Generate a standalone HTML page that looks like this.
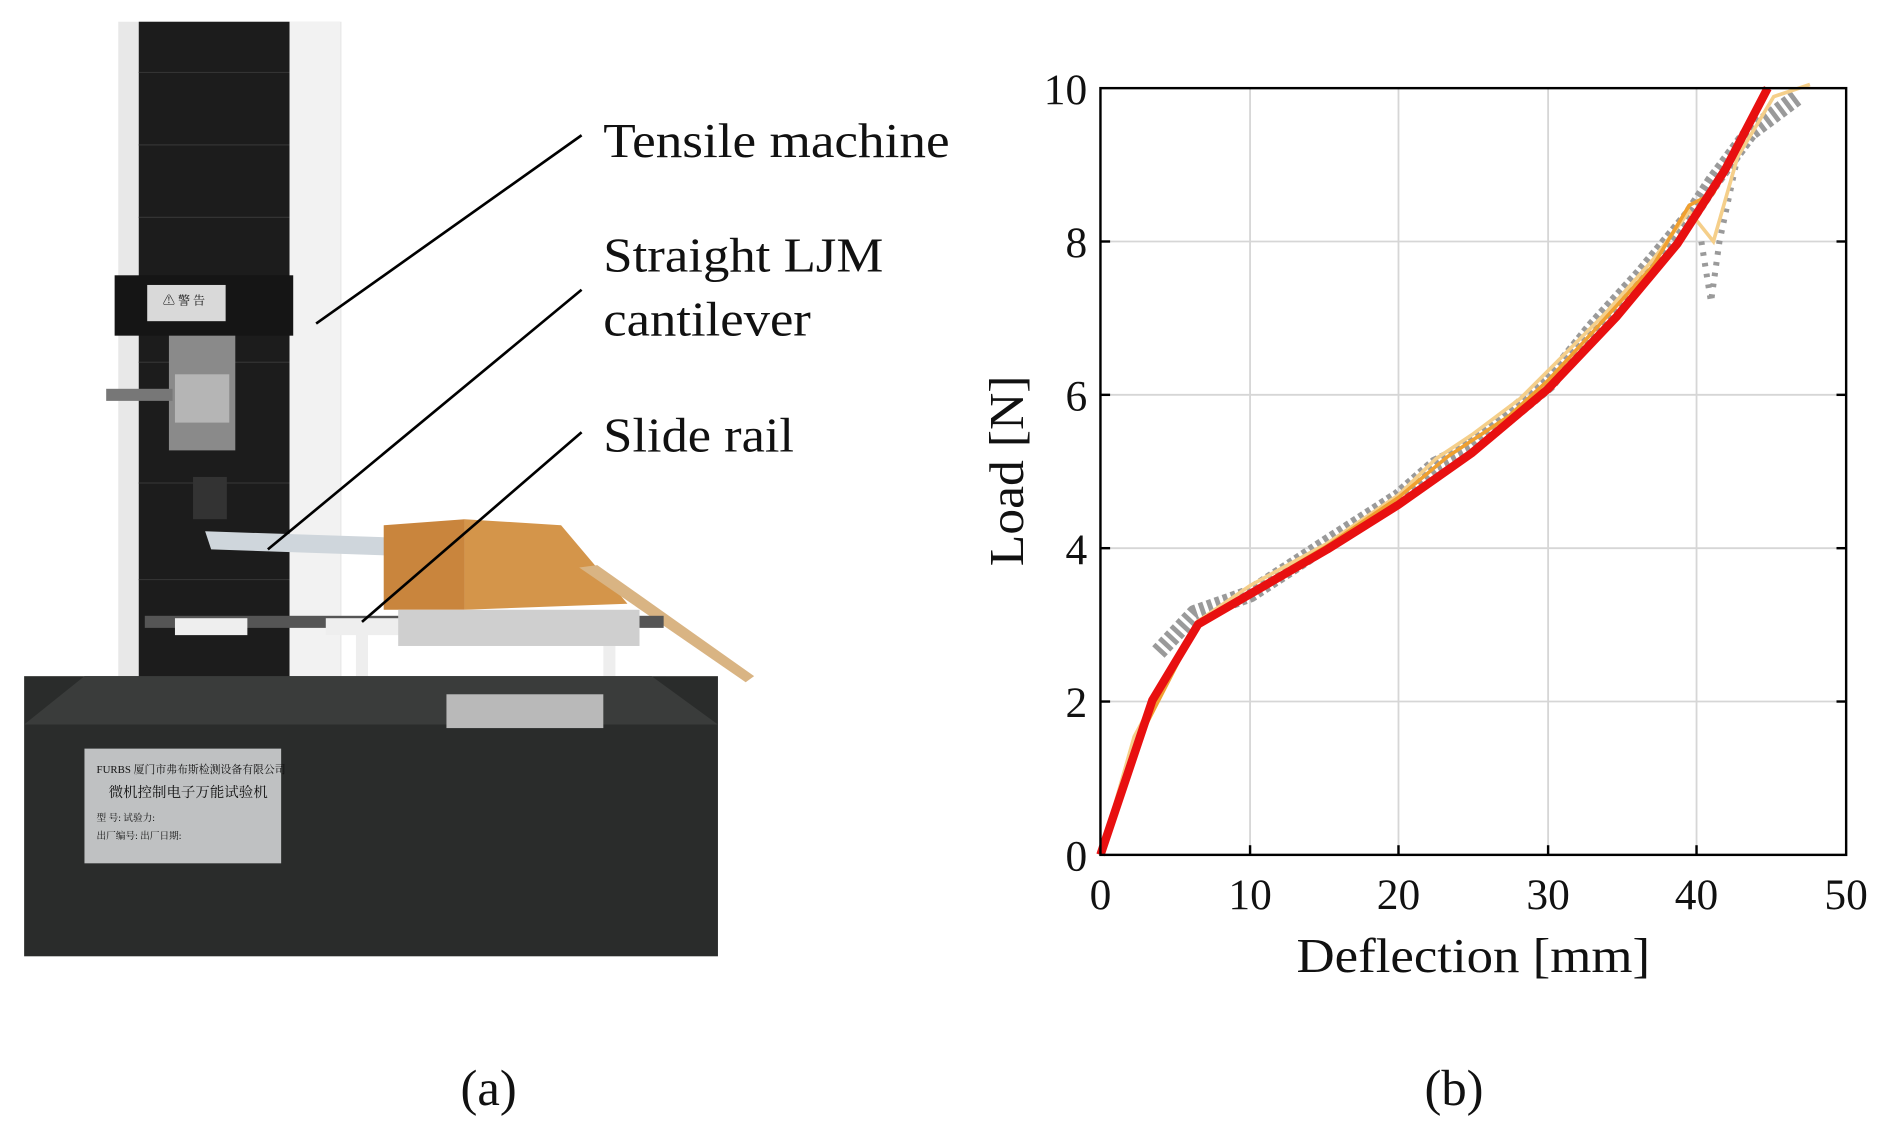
<!DOCTYPE html>
<html><head><meta charset="utf-8"><style>
html,body{margin:0;padding:0;background:#fff;}
svg{display:block;}
text{font-family:"Liberation Serif","Noto Serif CJK SC",serif;fill:#111;}
</style></head><body>
<svg width="1892" height="1135" viewBox="0 0 1568 940" preserveAspectRatio="none" xmlns="http://www.w3.org/2000/svg">
<rect width="1568" height="940" fill="#fff"/>
<rect x="98" y="18" width="185" height="545" fill="#e8e8e8"/>
<rect x="115" y="18" width="125" height="545" fill="#1c1c1c"/>
<g stroke="#333" stroke-width="1">
<line x1="115" y1="60" x2="240" y2="60"/><line x1="115" y1="120" x2="240" y2="120"/><line x1="115" y1="180" x2="240" y2="180"/><line x1="115" y1="300" x2="240" y2="300"/><line x1="115" y1="400" x2="240" y2="400"/><line x1="115" y1="480" x2="240" y2="480"/>
</g>
<rect x="240" y="18" width="42" height="545" fill="#f2f2f2"/>
<rect x="95" y="228" width="148" height="50" fill="#151515"/>
<rect x="122" y="236" width="65" height="30" fill="#d9d9d9"/>
<text x="135" y="252" font-size="10" fill="#c00">⚠ 警 告</text>
<rect x="140" y="278" width="55" height="95" fill="#8a8a8a"/>
<rect x="145" y="310" width="45" height="40" fill="#b5b5b5"/>
<rect x="88" y="322" width="55" height="10" fill="#777"/>
<rect x="160" y="395" width="28" height="35" fill="#333"/>
<polygon points="170,440 320,445 320,460 175,455" fill="#cfd6dc"/>
<polygon points="318,435 385,430 385,505 318,505" fill="#c9853d"/>
<polygon points="385,430 465,435 520,500 385,505" fill="#d4954a"/>
<polygon points="480,470 495,468 625,560 618,565" fill="#d9b483"/>
<rect x="120" y="510" width="430" height="10" fill="#555"/>
<rect x="145" y="512" width="60" height="14" fill="#eee"/>
<rect x="270" y="512" width="70" height="14" fill="#eee"/>
<rect x="295" y="525" width="10" height="45" fill="#eee"/>
<rect x="270" y="565" width="60" height="22" fill="#f0f0f0"/>
<rect x="485" y="520" width="40" height="10" fill="#eee"/>
<rect x="500" y="525" width="10" height="45" fill="#eee"/>
<rect x="482" y="560" width="70" height="20" fill="#f0f0f0"/>
<rect x="330" y="505" width="200" height="30" fill="#cfcfcf"/>
<rect x="20" y="560" width="575" height="232" fill="#2a2c2b"/>
<polygon points="20,600 70,560 540,560 595,600" fill="#3a3c3b"/>
<rect x="70" y="620" width="163" height="95" fill="#bfc1c2"/>
<text x="80" y="640" font-size="9" fill="#222">FURBS 厦门市弗布斯检测设备有限公司</text>
<text x="90" y="660" font-size="12" fill="#222">微机控制电子万能试验机</text>
<text x="80" y="680" font-size="8" fill="#222">型 号:        试验力:</text>
<text x="80" y="695" font-size="8" fill="#222">出厂编号:      出厂日期:</text>
<rect x="370" y="575" width="130" height="28" fill="#b9b9b9"/>
<g stroke="#000" stroke-width="2.2">
<line x1="262" y1="268" x2="482" y2="112"/>
<line x1="222" y1="455" x2="482" y2="240"/>
<line x1="300" y1="515" x2="482" y2="358"/>
</g>
<text x="500" y="130" font-size="40" textLength="287" lengthAdjust="spacingAndGlyphs">Tensile machine</text>
<text x="500" y="225" font-size="40" textLength="232" lengthAdjust="spacingAndGlyphs">Straight LJM</text>
<text x="500" y="278" font-size="40" textLength="172" lengthAdjust="spacingAndGlyphs">cantilever</text>
<text x="500" y="374" font-size="40" textLength="158" lengthAdjust="spacingAndGlyphs">Slide rail</text>
<text x="405" y="915" font-size="42" text-anchor="middle">(a)</text>
<text x="1205" y="915" font-size="42" text-anchor="middle">(b)</text>
<g stroke="#d6d6d6" stroke-width="1.5">
<line x1="1036" y1="73" x2="1036" y2="708"/><line x1="1159" y1="73" x2="1159" y2="708"/><line x1="1283" y1="73" x2="1283" y2="708"/><line x1="1406" y1="73" x2="1406" y2="708"/>
<line x1="912" y1="200" x2="1530" y2="200"/><line x1="912" y1="327" x2="1530" y2="327"/><line x1="912" y1="454" x2="1530" y2="454"/><line x1="912" y1="581" x2="1530" y2="581"/>
</g>
<polyline fill="none" stroke="#9a9a9a" stroke-width="14" stroke-dasharray="4 3" stroke-linejoin="round" points="960,540 990,508 1036,492 1100,450 1159,412 1190,385 1220,370 1250,345 1283,318 1320,272 1360,228 1400,180 1420,150 1450,110 1490,80"/>
<polyline fill="none" stroke="#9a9a9a" stroke-width="5" stroke-dasharray="3 6" points="1410,200 1418,250 1425,200 1440,130"/>
<polyline fill="none" stroke="#f5cf8a" stroke-width="3" points="912,708 940,610 992,515 1036,485 1100,450 1159,410 1190,380 1220,360 1260,330 1290,300 1330,260 1370,215 1400,175 1420,200 1440,130 1470,80 1500,70"/>
<polyline fill="none" stroke="#f0a030" stroke-width="3" points="912,708 950,600 992,518 1036,490 1100,452 1159,412 1200,378 1250,345 1283,315 1320,275 1370,220 1400,170 1420,160 1440,120 1465,73"/>
<polyline fill="none" stroke="#e81010" stroke-width="7" stroke-linejoin="round" points="912,708 955,580 993,517 1036,492 1100,455 1159,418 1220,375 1283,322 1340,262 1390,202 1430,140 1465,73"/>
<rect x="912" y="73" width="618" height="635" fill="none" stroke="#000" stroke-width="2"/>
<g stroke="#000" stroke-width="2">
<line x1="1036" y1="708" x2="1036" y2="700"/><line x1="1159" y1="708" x2="1159" y2="700"/><line x1="1283" y1="708" x2="1283" y2="700"/><line x1="1406" y1="708" x2="1406" y2="700"/>
<line x1="912" y1="200" x2="920" y2="200"/><line x1="912" y1="327" x2="920" y2="327"/><line x1="912" y1="454" x2="920" y2="454"/><line x1="912" y1="581" x2="920" y2="581"/>
<line x1="1530" y1="200" x2="1522" y2="200"/><line x1="1530" y1="327" x2="1522" y2="327"/><line x1="1530" y1="454" x2="1522" y2="454"/><line x1="1530" y1="581" x2="1522" y2="581"/>
</g>
<g font-size="36" text-anchor="middle">
<text x="912" y="753">0</text><text x="1036" y="753">10</text><text x="1159" y="753">20</text><text x="1283" y="753">30</text><text x="1406" y="753">40</text><text x="1530" y="753">50</text>
</g>
<g font-size="36" text-anchor="end">
<text x="901" y="721">0</text><text x="901" y="594">2</text><text x="901" y="467">4</text><text x="901" y="340">6</text><text x="901" y="213">8</text><text x="901" y="86">10</text>
</g>
<text x="1221" y="805" font-size="40" text-anchor="middle" textLength="293" lengthAdjust="spacingAndGlyphs">Deflection [mm]</text>
<text transform="translate(848,390) rotate(-90)" font-size="40" text-anchor="middle" textLength="158" lengthAdjust="spacingAndGlyphs">Load [N]</text>
</svg>
</body></html>
